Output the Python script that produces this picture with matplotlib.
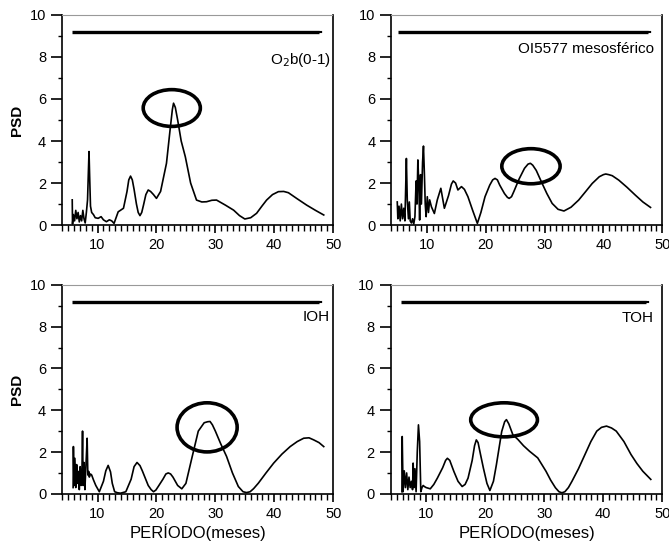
import matplotlib
matplotlib.use("Agg")
import matplotlib.pyplot as plt
from matplotlib.patches import Ellipse
from matplotlib.ticker import MultipleLocator

plt.rcParams['font.family'] = ['Liberation Sans', 'DejaVu Sans']

# O2b(0-1)
x1 = [5.7, 5.75, 5.9, 6.1, 6.3, 6.5, 6.7, 6.9, 7.1, 7.3, 7.5, 7.7, 7.9, 8.1, 8.3, 8.45, 8.55, 8.65, 8.8, 9.0,
      9.3, 9.6, 10.1, 10.6, 11.0, 11.5, 12.0, 12.4, 12.8, 13.5, 14.4, 15.0, 15.3, 15.6, 15.9, 16.2, 16.6, 16.9,
      17.2, 17.5, 17.8, 18.2, 18.6, 19.0, 19.5, 20.0, 20.7, 21.7, 22.3, 22.7, 22.9, 23.2, 23.6, 24.2, 24.9,
      25.8, 26.8, 27.7, 28.5, 29.4, 30.2, 31.7, 33.1, 34.1, 35.0, 36.0, 37.0, 37.9, 38.7, 39.7, 40.7, 41.6,
      42.4, 43.9, 45.5, 47.0, 48.4]
y1 = [1.2, 0.05, 0.5, 0.2, 0.7, 0.3, 0.6, 0.15, 0.45, 0.2, 0.7, 0.3, 0.1, 0.6, 1.2, 2.6, 3.5, 2.4, 0.9, 0.6,
      0.5, 0.35, 0.32, 0.4, 0.25, 0.16, 0.25, 0.2, 0.08, 0.63, 0.8, 1.6, 2.15, 2.33, 2.15, 1.7, 1.0, 0.6,
      0.45, 0.6, 0.95, 1.45, 1.67, 1.6, 1.45, 1.27, 1.6, 2.94, 4.5, 5.5, 5.8, 5.6, 5.0, 4.0, 3.25,
      2.0, 1.19, 1.1, 1.11, 1.18, 1.19, 0.95, 0.71, 0.45, 0.29, 0.35, 0.56, 0.9, 1.19, 1.45, 1.59, 1.6,
      1.54, 1.25, 0.95, 0.7, 0.48]

# OI5577 mesosferico
x2 = [5.0, 5.1, 5.3, 5.5, 5.7, 5.9, 6.1, 6.3, 6.45, 6.55, 6.7, 6.9, 7.05, 7.2, 7.4, 7.6, 7.8, 8.0, 8.2, 8.35,
      8.5, 8.65, 8.8, 8.95, 9.1, 9.3, 9.45, 9.6, 9.75, 9.9, 10.1, 10.3, 10.5, 10.8, 11.3, 11.8, 12.4, 13.0,
      13.7, 14.2, 14.5, 14.9, 15.3, 15.9, 16.4, 17.0, 17.8, 18.6, 19.2, 19.9, 20.7, 21.2, 21.6, 22.0, 22.4,
      23.2, 23.7, 24.0, 24.4, 24.8, 25.7, 26.6, 27.2, 27.6, 28.0, 28.6, 29.6, 30.4, 31.3, 32.3, 33.3, 34.5,
      35.8, 37.0, 38.1, 39.3, 40.0, 40.4, 40.9, 41.5, 42.6, 44.0, 45.4, 46.7, 48.0]
y2 = [1.1, 0.3, 0.9, 0.2, 1.0, 0.3, 0.8, 0.2, 2.0, 3.17, 1.2, 0.3, 1.1, 0.2, 0.1, 0.3, 0.05, 0.4, 2.1, 1.0,
      3.1, 2.0, 0.24, 2.4, 1.0, 3.0, 3.76, 2.5, 1.0, 0.4, 1.35, 0.6, 1.2, 0.87, 0.55, 1.2, 1.75, 0.8,
      1.4, 1.95, 2.1, 2.0, 1.67, 1.83, 1.7, 1.35, 0.7, 0.08, 0.6, 1.35, 1.9, 2.15, 2.22, 2.15, 1.9,
      1.5, 1.32, 1.27, 1.35, 1.6, 2.2, 2.7, 2.9, 2.94, 2.85, 2.6, 1.98, 1.5, 1.03, 0.75, 0.67, 0.85,
      1.19, 1.6, 1.98, 2.3, 2.4, 2.43, 2.4, 2.35, 2.14, 1.8, 1.43, 1.1, 0.84]

# IOH
x3 = [5.85, 5.9, 6.0, 6.15, 6.3, 6.45, 6.6, 6.75, 6.9, 7.05, 7.2, 7.35, 7.45, 7.55, 7.7, 7.85, 8.0, 8.1, 8.23,
      8.35, 8.5, 8.6, 8.8, 9.0, 9.3, 9.7, 10.3, 11.0, 11.4, 11.8, 12.2, 12.5, 12.9, 13.4, 13.9, 14.8, 15.7,
      16.2, 16.7, 17.2, 17.6, 18.6, 19.1, 19.5, 19.9, 20.3, 21.1, 21.6, 22.0, 22.4, 22.8, 23.6, 24.3, 25.0,
      26.0, 27.1, 28.1, 28.7, 29.1, 29.5, 30.0, 30.9, 31.9, 32.9, 33.9, 34.7, 35.3, 35.9, 36.5, 37.3, 38.6,
      39.9, 41.3, 42.7, 43.9, 45.0, 45.9, 46.7, 47.6, 48.4]
y3 = [0.3, 2.26, 0.4, 1.7, 0.3, 1.4, 0.5, 1.07, 0.2, 1.3, 0.4, 1.1, 3.0, 0.4, 1.5, 0.2, 1.2, 1.8, 2.66,
      0.9, 1.07, 0.8, 0.95, 0.9, 0.67, 0.4, 0.1, 0.6, 1.1, 1.36, 1.05, 0.5, 0.1, 0.05, 0.03, 0.1, 0.7,
      1.3, 1.5, 1.35, 1.1, 0.4, 0.2, 0.1, 0.18, 0.35, 0.7, 0.95, 1.0, 0.95, 0.8, 0.4, 0.24, 0.5,
      1.7, 3.0, 3.4, 3.45, 3.46, 3.3, 3.0, 2.4, 1.79, 1.0, 0.35, 0.1, 0.06, 0.1, 0.25, 0.51, 1.0,
      1.47, 1.9, 2.26, 2.5, 2.66, 2.68, 2.58, 2.45, 2.26]

# TOH
x4 = [5.9, 5.95, 6.1, 6.3, 6.5, 6.7, 6.9, 7.1, 7.3, 7.5, 7.7, 7.8, 7.95, 8.1, 8.3, 8.5, 8.7, 8.9, 9.1, 9.3,
      9.5, 9.7, 10.0, 10.7, 11.3, 11.9, 12.8, 13.3, 13.6, 14.0, 14.7, 15.4, 16.1, 16.6, 17.1, 17.8, 18.2,
      18.5, 18.8, 19.2, 19.7, 20.3, 20.8, 21.4, 21.9, 22.8, 23.3, 23.6, 24.0, 24.7, 25.55, 26.5, 27.5, 28.9,
      30.3, 31.1, 31.9, 32.5, 33.0, 33.5, 34.1, 34.7, 35.8, 36.9, 37.9, 38.9, 39.7, 40.55, 41.4, 42.2, 43.5,
      44.7, 45.7, 46.7, 48.05]
y4 = [0.1, 2.74, 0.1, 1.1, 0.3, 1.0, 0.2, 0.8, 0.3, 0.6, 0.2, 1.47, 0.3, 1.2, 0.1, 2.0, 3.3, 2.5, 0.1, 0.3,
      0.4, 0.35, 0.3, 0.24, 0.45, 0.75, 1.25, 1.6, 1.7, 1.6, 1.07, 0.6, 0.35, 0.45, 0.75, 1.6, 2.3,
      2.58, 2.45, 1.9, 1.23, 0.5, 0.16, 0.6, 1.39, 2.98, 3.45, 3.55, 3.35, 2.82, 2.6, 2.3, 2.04, 1.72,
      1.08, 0.65, 0.29, 0.1, 0.05, 0.1, 0.3, 0.6, 1.2, 1.88, 2.5, 3.0, 3.18, 3.24, 3.15, 3.0, 2.5,
      1.88, 1.45, 1.08, 0.69]

labels = ['O$_2$b(0-1)', 'OI5577 mesosférico', 'IOH', 'TOH']
sig_level = 9.2
sig_start = [5.6, 5.1, 5.6, 5.8]
sig_end = [48.4, 48.4, 48.4, 48.0]
# ellipses: (x, y, width, height)
circles = [(22.6, 5.57, 9.7, 1.75), (27.7, 2.8, 9.9, 1.67), (28.6, 3.18, 10.2, 2.35), (23.2, 3.54, 11.3, 1.63)]
label_pos = [(49.7, 7.85), (48.6, 8.4), (49.5, 8.45), (48.6, 8.4)]

series = [(x1, y1), (x2, y2), (x3, y3), (x4, y4)]

fig = plt.figure(figsize=(6.69, 5.53), dpi=100)
boxes = [[0.093, 0.593, 0.405, 0.380], [0.585, 0.593, 0.405, 0.380],
         [0.093, 0.107, 0.405, 0.378], [0.584, 0.107, 0.406, 0.378]]

for i, (x, y) in enumerate(series):
    ax = fig.add_axes(boxes[i])
    ax.plot(x, y, color='black', lw=1.2)
    ax.plot([sig_start[i], sig_end[i] - 0.8], [sig_level, sig_level], color='black', lw=2.4, solid_capstyle='butt')
    ax.plot([sig_end[i] - 0.8, sig_end[i]], [sig_level, sig_level], color='black', lw=1.5, ls=(0, (1.5, 1)))
    cx, cy, w, h = circles[i]
    ax.add_patch(Ellipse((cx, cy), w, h, fill=False, ec='black', lw=2.6))
    ax.text(label_pos[i][0], label_pos[i][1], labels[i], ha='right', va='center', fontsize=11)

    ax.set_xlim(4, 50)
    ax.set_ylim(0, 10)
    ax.xaxis.set_major_locator(MultipleLocator(10))
    ax.xaxis.set_minor_locator(MultipleLocator(1))
    ax.yaxis.set_major_locator(MultipleLocator(2))
    ax.yaxis.set_minor_locator(MultipleLocator(1))
    ax.tick_params(axis='x', which='major', direction='out', length=6, width=1.2, labelsize=10.5)
    ax.tick_params(axis='x', which='minor', direction='out', length=4, width=1)
    ax.tick_params(axis='y', which='major', direction='out', length=8, width=1.2, labelsize=10.5)
    ax.tick_params(axis='y', which='minor', direction='out', length=3, width=1)
    ax.spines['top'].set_color('#999999')
    ax.spines['top'].set_linestyle((0, (1, 1)))
    for s in ['left', 'right', 'bottom']:
        ax.spines[s].set_linewidth(1.2)

    if i % 2 == 0:
        ax.set_ylabel('PSD', fontsize=11, fontweight='bold')
    if i >= 2:
        ax.set_xlabel('PERÍODO(meses)', fontsize=12, labelpad=2)

fig.savefig('out.png', dpi=100)
